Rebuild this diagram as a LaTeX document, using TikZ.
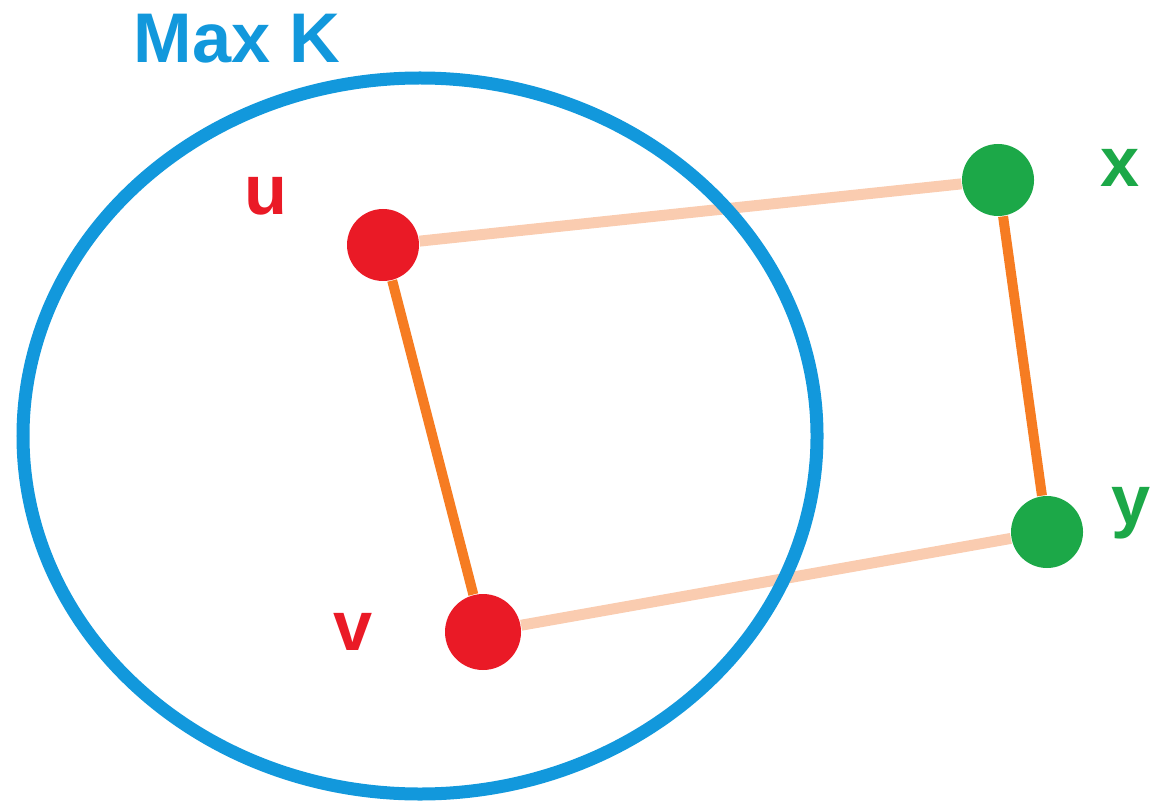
\documentclass[tikz,border=0pt]{standalone}
\usepackage{fontspec}
\setmainfont{Liberation Sans}
\usepackage{tikz}

\definecolor{setblue}{RGB}{18,152,220}
\definecolor{redvert}{RGB}{234,26,38}
\definecolor{greenvert}{RGB}{28,168,72}
\definecolor{edgeorange}{RGB}{246,124,34}
\definecolor{edgepeach}{RGB}{250,204,176}

\begin{document}
\begin{tikzpicture}[
      vert/.style={circle, inner sep=0pt, minimum size=0.72cm},
      lbl/.style={font=\fontsize{20}{24}\selectfont\bfseries, anchor=base west, inner sep=0pt},
      tight/.style={edgeorange, line width=0.1cm},
      loose/.style={edgepeach, line width=0.11cm}
    ]
    \useasboundingbox (0,0) rectangle (11.53,8.08);

    % ── vertices ─────────────────────────────────────
    \node[vert, fill=redvert] (u) at (3.83,5.63) {};
    \node[vert, fill=redvert, minimum size=0.76cm] (v) at (4.83,1.76) {};
    \node[vert, fill=greenvert] (x) at (9.98,6.28) {};
    \node[vert, fill=greenvert] (y) at (10.47,2.76) {};

    % ── edges ────────────────────────────────────────
    \draw[loose] (u) -- (x);
    \draw[loose] (v) -- (y);
    \draw[tight] (u) -- (v);
    \draw[tight] (x) -- (y);

    % the set K
    \draw[setblue, line width=0.13cm] (4.20,3.72) ellipse (3.97cm and 3.58cm);
    \node[lbl, setblue] (maxk) at (1.33,7.45) {Max K};

    % ── labels ───────────────────────────────────────
    \node[lbl, redvert] (ulbl) at (2.44,5.93) {u};
    \node[lbl, redvert] (vlbl) at (3.33,1.58) {v};
    \node[lbl, greenvert] (xlbl) at (11.00,6.21) {x};
    \node[lbl, greenvert] (ylbl) at (11.11,2.84) {y};

  \end{tikzpicture}
\end{document}
